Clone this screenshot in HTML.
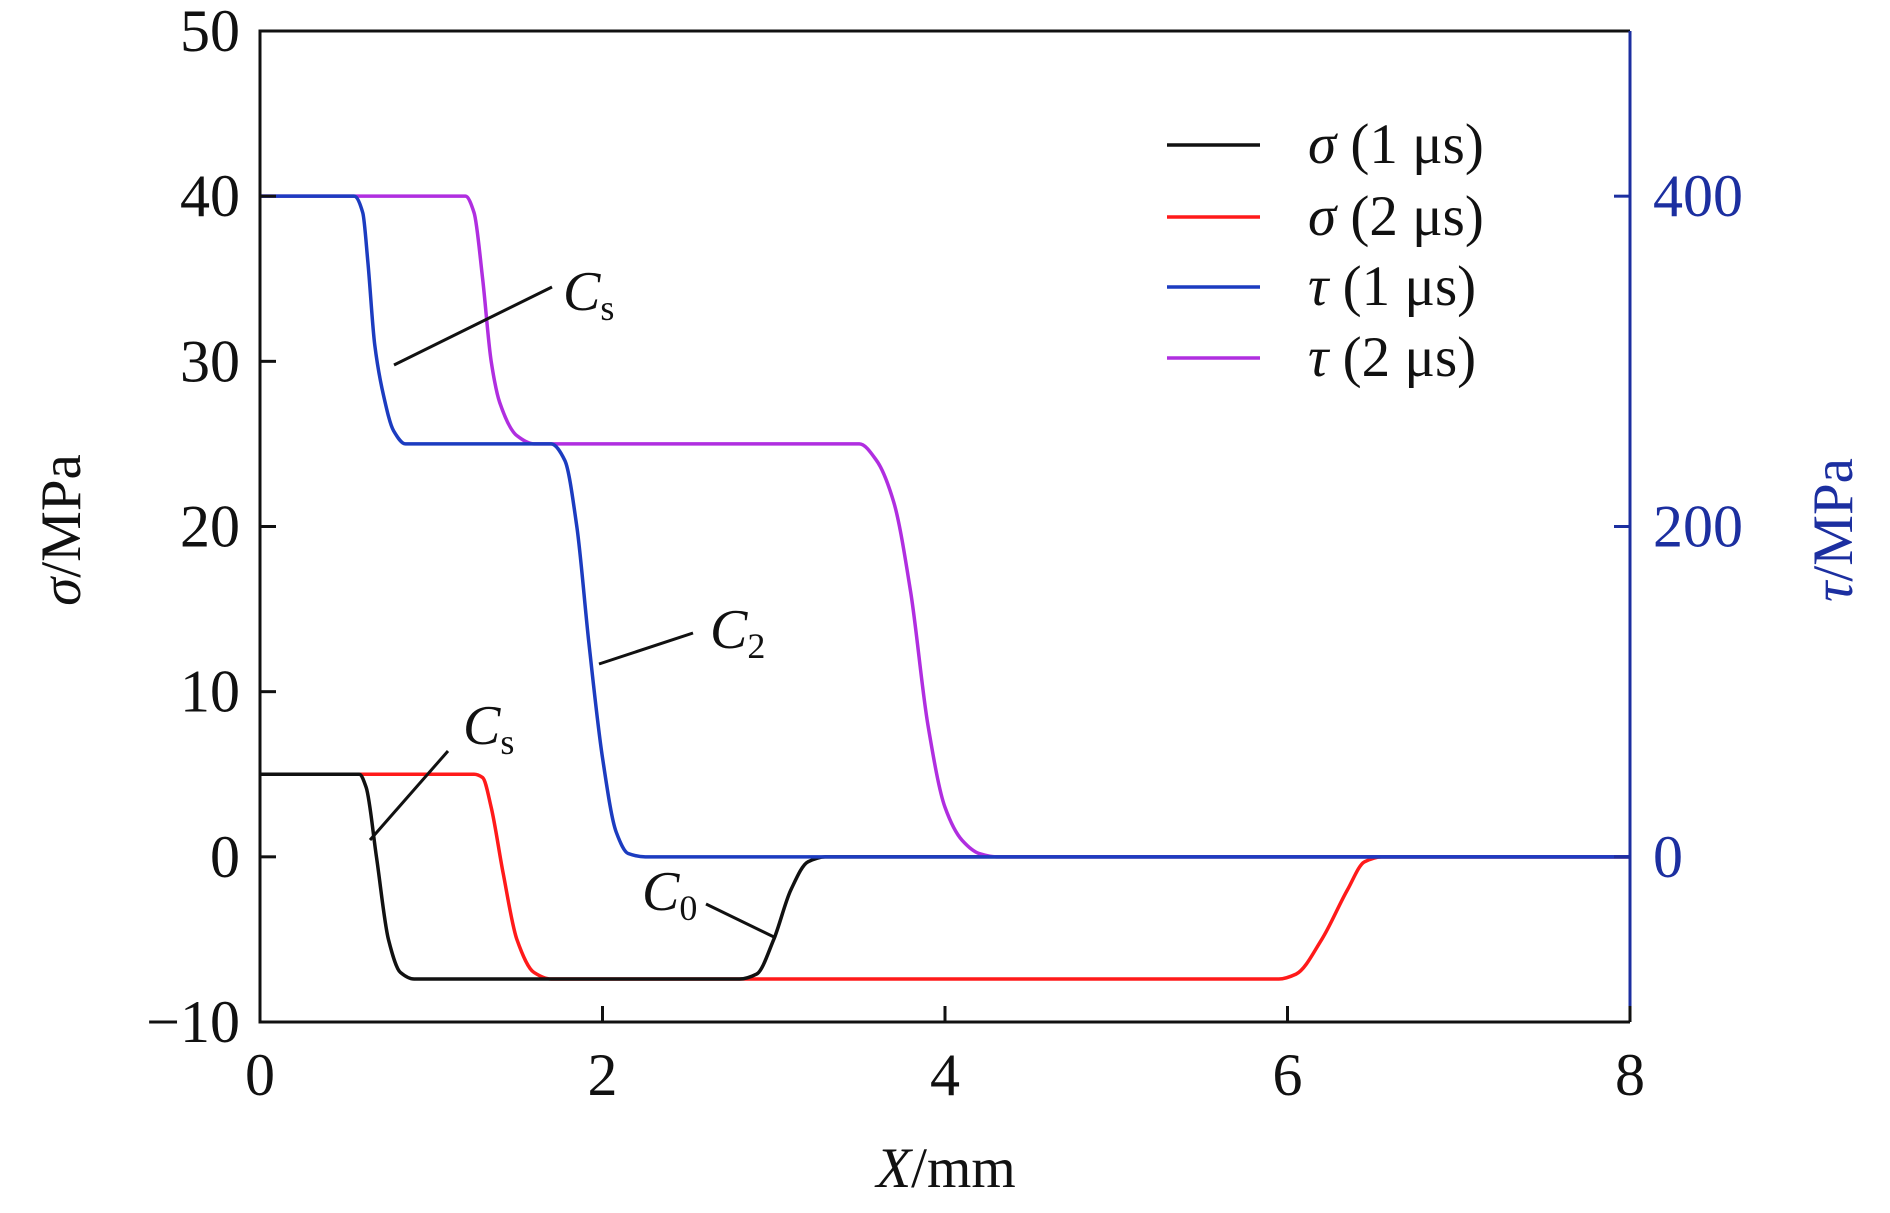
<!DOCTYPE html>
<html><head><meta charset="utf-8"><style>
body{margin:0;background:#fff}
svg text{font-family:"Liberation Serif",serif}
</style></head><body>
<svg id="chart" width="1890" height="1208" viewBox="0 0 1890 1208" xmlns="http://www.w3.org/2000/svg">
<g id="series"></g>
<g id="axes"></g>
</svg>
<script>
const xTicks=[0,2,4,6,8];
const yTicksLeft=[-10,0,10,20,30,40,50];
const yTicksRight=[0,200,400];
const s1X=[0,0.58,0.62,0.68,0.75,0.82,0.9,2.8,2.9,3.0,3.1,3.2,3.3,8];
const s1Y=[5,5,4.2,0,-5,-7,-7.4,-7.4,-7.1,-5,-2,-0.3,0,0];
const s2X=[0,1.25,1.3,1.35,1.42,1.5,1.6,1.7,5.95,6.05,6.2,6.35,6.45,6.55,8];
const s2Y=[5,5,4.8,3,-1,-5,-7,-7.4,-7.4,-7.1,-5,-2,-0.3,0,0];
const t1X=[0,0.55,0.6,0.63,0.67,0.72,0.78,0.85,0.95,1.7,1.78,1.85,1.92,2.0,2.08,2.15,2.25,8];
const t1Y=[400,400,390,360,310,280,258,250,250,250,240,200,130,60,15,2,0,0];
const t2X=[0,1.2,1.25,1.3,1.35,1.4,1.5,1.6,1.75,3.5,3.6,3.7,3.8,3.9,4.0,4.1,4.2,4.3,8];
const t2Y=[400,400,390,350,300,275,255,250,250,250,240,215,160,80,30,10,2,0,0];
const L=260,R=1630,T=31,B=1022;
const xs=v=>L+(v/8)*(R-L);
const ys=v=>B-((v+10)/60)*(B-T);
const yr=v=>ys(v/10);
const NS="http://www.w3.org/2000/svg";
const sg=document.getElementById('series'),ag=document.getElementById('axes');
function mk(tag,attrs,parent){const e=document.createElementNS(NS,tag);for(const k in attrs)e.setAttribute(k,attrs[k]);parent.appendChild(e);return e;}
function pathOf(X,Y,yf){
  const n=X.length,d=[],m=[];
  for(let i=0;i<n-1;i++)d.push((Y[i+1]-Y[i])/(X[i+1]-X[i]));
  m[0]=d[0];m[n-1]=d[n-2];
  for(let i=1;i<n-1;i++){
    if(d[i-1]*d[i]<=0)m[i]=0;
    else{const w1=2*(X[i+1]-X[i])+(X[i]-X[i-1]),w2=(X[i+1]-X[i])+2*(X[i]-X[i-1]);m[i]=(w1+w2)/(w1/d[i-1]+w2/d[i]);}
  }
  let s=`M${xs(X[0])},${yf(Y[0])}`;
  for(let i=0;i<n-1;i++){
    const h=X[i+1]-X[i];
    const c1x=X[i]+h/3,c1y=Y[i]+m[i]*h/3,c2x=X[i+1]-h/3,c2y=Y[i+1]-m[i+1]*h/3;
    s+=` C${xs(c1x)},${yf(c1y)} ${xs(c2x)},${yf(c2y)} ${xs(X[i+1])},${yf(Y[i+1])}`;
  }
  return s;
}
const series=[[s2X,s2Y,ys,'#ff1a1a','sigma-2us-line'],[s1X,s1Y,ys,'#111','sigma-1us-line'],[t2X,t2Y,yr,'#b02ee0','tau-2us-line'],[t1X,t1Y,yr,'#1c3cc0','tau-1us-line']];
series.forEach(s=>{
  const e=mk('path',{d:pathOf(s[0],s[1],s[2]),fill:'none',stroke:s[3],'stroke-width':3.5},sg);
  
  
});
let f=mk('path',{d:`M${R},${T} L${L},${T} L${L},${B} L${R},${B}`,fill:'none',stroke:'#111','stroke-width':3},ag);


let ra=mk('line',{x1:R,y1:T,x2:R,y2:B,stroke:'#1c2fa0','stroke-width':3},ag);


xTicks.forEach(v=>{
  const x=xs(v);
  const t=mk('line',{x1:x,y1:B,x2:x,y2:B-16,stroke:'#111','stroke-width':3},ag);
  
  
  const l=mk('text',{x:x,y:1095,'font-size':60,'text-anchor':'middle',fill:'#111'},ag);
  l.textContent=v;
  
  
});
yTicksLeft.forEach(v=>{
  const y=ys(v);
  const t=mk('line',{x1:L,y1:y,x2:L+16,y2:y,stroke:'#111','stroke-width':3},ag);
  
  
  const l=mk('text',{x:240,y:y+20,'font-size':60,'text-anchor':'end',fill:'#111'},ag);
  l.textContent=v<0?'\u2212'+(-v):v;
  
  
});
yTicksRight.forEach(v=>{
  const y=yr(v);
  const t=mk('line',{x1:R,y1:y,x2:R-16,y2:y,stroke:'#1c2fa0','stroke-width':3},ag);
  
  
  const l=mk('text',{x:1653,y:y+20,'font-size':60,fill:'#1c2fa0'},ag);
  l.textContent=v;
  
  
});
</script>
<svg style="position:absolute;left:0;top:0" width="1890" height="1208">
<g stroke="#111" stroke-width="3">
<line x1="394" y1="365" x2="552" y2="287"/>
<line x1="599" y1="664" x2="693" y2="633"/>
<line x1="370" y1="840" x2="448" y2="751"/>
<line x1="706" y1="904" x2="776" y2="938"/>
</g>
<g font-family="Liberation Serif,serif" font-size="56" fill="#111">
<text x="563" y="310"><tspan font-style="italic">C</tspan><tspan font-size="36" dy="10">s</tspan></text>
<text x="710" y="648"><tspan font-style="italic">C</tspan><tspan font-size="36" dy="10">2</tspan></text>
<text x="463" y="744"><tspan font-style="italic">C</tspan><tspan font-size="36" dy="10">s</tspan></text>
<text x="642" y="910"><tspan font-style="italic">C</tspan><tspan font-size="36" dy="10">0</tspan></text>
</g>
<g font-family="Liberation Serif,serif" font-size="57" fill="#111">
<line x1="1167" y1="145" x2="1260" y2="145" stroke="#111" stroke-width="3.5"/>
<text x="1308" y="163"><tspan font-style="italic">σ</tspan> (1 μs)</text>
<line x1="1167" y1="217" x2="1260" y2="217" stroke="#ff1a1a" stroke-width="3.5"/>
<text x="1308" y="235"><tspan font-style="italic">σ</tspan> (2 μs)</text>
<line x1="1167" y1="287" x2="1260" y2="287" stroke="#1c3cc0" stroke-width="3.5"/>
<text x="1308" y="305"><tspan font-style="italic">τ</tspan> (1 μs)</text>
<line x1="1167" y1="358" x2="1260" y2="358" stroke="#b02ee0" stroke-width="3.5"/>
<text x="1308" y="376"><tspan font-style="italic">τ</tspan> (2 μs)</text>
</g>
<text transform="translate(80,530) rotate(-90)" text-anchor="middle" font-family="Liberation Serif,serif" font-size="57" fill="#111"><tspan font-style="italic">σ</tspan>/MPa</text>
<text transform="translate(1852,530) rotate(-90)" text-anchor="middle" font-family="Liberation Serif,serif" font-size="57" fill="#1c2fa0"><tspan font-style="italic">τ</tspan>/MPa</text>
<text x="946" y="1187" text-anchor="middle" font-family="Liberation Serif,serif" font-size="57" fill="#111"><tspan font-style="italic">X</tspan>/mm</text>
</svg>
</body></html>
